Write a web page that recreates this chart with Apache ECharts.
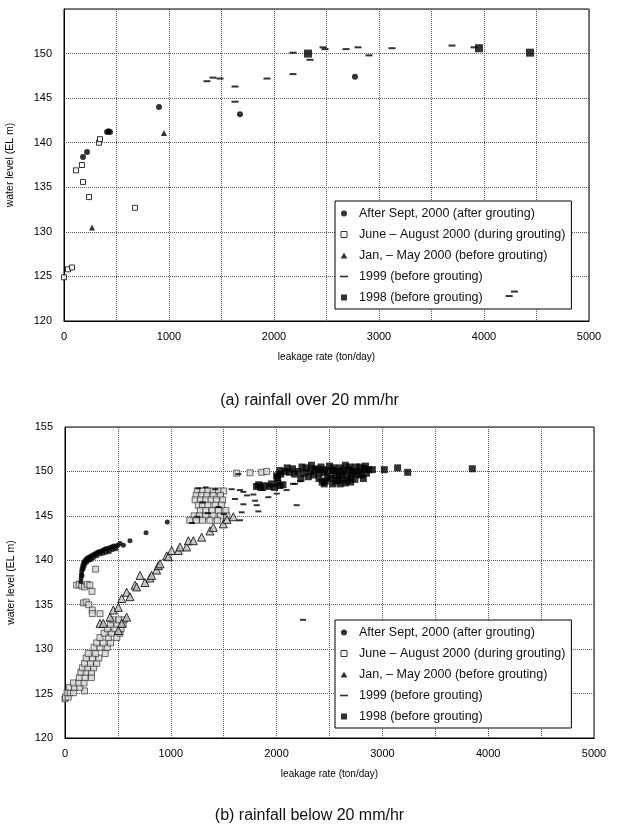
<!DOCTYPE html>
<html>
<head>
<meta charset="utf-8">
<script src="https://cdn.jsdelivr.net/npm/echarts@6/dist/echarts.min.js"></script>
<style>html,body{margin:0;padding:0;background:#fff}#c{width:619px;height:827px}</style>
</head>
<body>
<div id="c"></div>
<script>
// ---------- data ----------
const seriesNames = ['After Sept, 2000 (after grouting)','June – August 2000 (during grouting)','Jan, – May 2000 (before grouting)','1999 (before grouting)','1998 (before grouting)'];
const xTickLabels = [0,1000,2000,3000,4000,5000];
const yTickLabelsTop = [120,125,130,135,140,145,150];
const yTickLabelsBottom = [120,125,130,135,140,145,150,155];
const captionTop = '(a) rainfall over 20 mm/hr';
const captionBottom = '(b) rainfall below 20 mm/hr';

// (a) rainfall over 20 mm/hr
const topAfterSept = [[181,138.4],[219,138.95],[410,141.2],[424,141.3],[438,141.2],[905,144.0],[1676,143.2],[2771,147.4]];
const topJuneAug = [[0,124.9],[38,125.8],[76,126.0],[114,136.9],[171,137.5],[181,135.6],[238,133.9],[333,140.0],[343,140.4],[676,132.7]];
const topJanMay = [[267,130.5],[952,141.1]];
const top1999 = [[1362,146.9],[1419,147.3],[1486,147.2],[1629,146.3],[1629,144.6],[1933,147.2],[2181,150.1],[2181,147.7],[2343,149.3],[2467,150.7],[2486,150.5],[2686,150.5],[2800,150.7],[2905,149.8],[3124,150.6],[3695,150.9],[3905,150.7],[4240,122.8],[4290,123.3]];
const top1998 = [[2324,150.0],[3952,150.6],[4438,150.1]];

// (b) rainfall below 20 mm/hr
const botAfterSept = [[150,137.6],[152,138.0],[155,138.4],[158,138.8],[162,139.1],[168,139.4],[175,139.7],[185,139.9],[195,140.1],[208,140.2],[220,140.3],[235,140.4],[250,140.5],[265,140.6],[280,140.7],[295,140.8],[310,140.9],[325,141.0],[340,141.0],[355,141.1],[370,141.2],[385,141.3],[400,141.3],[420,141.4],[440,141.5],[460,141.6],[480,141.6],[500,141.7],[520,141.9],[160,138.3],[170,139.0],[180,139.3],[190,139.6],[205,139.8],[225,140.0],[245,140.1],[270,140.3],[300,140.5],[330,140.7],[360,140.8],[390,140.9],[420,141.0],[450,141.2],[480,141.3],[552,141.7],[614,142.2],[766,143.1],[967,144.3]];
const botJuneAug = [[290,139.0],[110,137.2],[135,137.3],[160,137.1],[185,137.0],[210,137.3],[235,137.2],[255,136.5],[175,135.2],[200,135.3],[225,135.0],[258,134.4],[258,134.0],[331,134.0],[184,125.3],
 [0,124.4],[5,124.6],[30,124.6],[20,125.1],[50,125.1],[80,125.1],[40,125.7],[90,125.7],[140,125.7],[80,126.2],[130,126.2],[180,126.2],[135,126.8],[190,126.8],[250,126.8],[150,127.4],[200,127.4],[250,127.4],[165,127.9],[215,127.9],[270,127.9],[185,128.4],[240,128.4],[300,128.4],[200,129.0],[260,129.0],[320,129.0],[220,129.5],[290,129.5],[380,129.5],[275,130.2],[330,130.2],[400,130.2],[300,130.7],[360,130.7],[430,130.7],[330,131.3],[410,131.3],[490,131.3],[370,131.8],[440,131.8],[520,131.8],[400,132.3],[470,132.3],[530,132.3],[430,132.8],[490,132.8],[550,132.8],[450,133.3],[510,133.3],[560,133.3],
 [1250,147.8],[1300,147.8],[1350,147.8],[1400,147.8],[1450,147.8],[1500,147.8],[1240,147.3],[1290,147.3],[1340,147.3],[1400,147.3],[1470,147.3],[1230,146.8],[1280,146.8],[1330,146.8],[1380,146.8],[1430,146.8],[1490,146.8],[1260,146.2],[1300,146.2],[1350,146.2],[1420,146.2],[1480,146.2],[1280,145.6],[1330,145.6],[1390,145.6],[1450,145.6],[1520,145.6],[1220,145.0],[1270,145.0],[1330,145.0],[1400,145.0],[1470,145.0],[1530,145.0],[1180,144.5],[1240,144.5],[1300,144.5],[1370,144.5],[1440,144.5],
 [1623,149.8],[1749,149.85],[1859,149.9],[1906,150.0]];
const botJanMay = [[331,132.9],[362,132.9],[425,133.6],[457,134.4],[504,134.7],[536,135.7],[504,132.1],[536,132.9],[583,133.6],[583,136.4],[614,135.9],[662,137.2],[677,137.0],[709,138.3],[756,137.5],[803,138.0],[819,138.3],[866,138.9],[882,139.4],[898,139.6],[961,140.5],[977,140.4],[1008,141.1],[1071,141.1],[1087,141.5],[1150,141.5],[1166,142.2],[1213,142.2],[1292,142.6],[1370,143.3],[1402,143.7],[1496,144.1],[1531,144.6],[1591,144.9]];
const bot1999 = [[1638,149.7],[1575,148.0],[1686,147.7],[1780,147.4],[1922,147.1],[2001,147.5],[2174,148.6],[2221,148.9],[1796,146.7],[1812,146.2],[1827,145.5],[1686,146.3],[1670,145.4],[1654,144.5],[2190,146.2],[1607,146.9],[2095,147.9],[1654,147.9],[1720,147.3],[1871,147.9],[2155,148.6],[1260,148.1],[1330,148.2],[1420,148.0],[1300,146.5],[1450,146.0],[1350,145.3],[1500,145.2],[1250,144.9],[1200,144.2],[2250,133.3]];
const bot1998 = [[1810,148.3],[1830,148.5],[1850,148.2],[1880,148.4],[1930,148.3],[1980,148.2],[2030,148.4],[1950,148.6],[2010,148.7],[2060,148.5],[2000,149.5],[2040,149.7],[2010,149.3],[2030,150.1],[2080,150.0],[2100,150.4],[2120,149.9],[2150,150.3],[2170,149.7],[2200,150.0],[2230,149.2],[2240,150.5],[2260,149.8],[2280,150.4],[2300,149.4],[2320,150.0],[2330,150.7],[2350,149.6],[2360,150.3],[2380,150.2],[2400,149.2],[2400,149.9],[2420,150.5],[2440,150.2],[2450,149.9],[2450,148.6],[2460,148.9],[2480,149.4],[2490,150.1],[2500,150.6],[2510,149.2],[2530,150.1],[2530,148.6],[2540,150.4],[2550,149.6],[2560,148.9],[2570,150.0],[2580,149.0],[2590,149.5],[2600,150.4],[2600,148.6],[2610,149.1],[2620,149.8],[2630,150.1],[2650,150.7],[2650,148.7],[2660,149.5],[2670,149.0],[2680,150.2],[2690,150.5],[2700,149.3],[2700,148.8],[2710,150.0],[2720,149.8],[2740,149.1],[2750,150.5],[2760,149.7],[2780,150.0],[2790,150.5],[2800,149.6],[2820,149.2],[2830,150.3],[2840,150.6],[2850,149.8],[2870,150.2],[2430,148.8],[2905,150.2],[3018,150.2],[3144,150.4],[3239,149.9],[3850,150.3]];

// ---------- chart ----------
const FONT = '"Liberation Sans", Arial, sans-serif';
const chart = echarts.init(document.getElementById('c'), null, {renderer:'canvas'});

function xAxisCfg(gi){
  return {
    type:'value', gridIndex:gi, min:0, max:5000, interval:500,
    name:'leakage rate (ton/day)', nameLocation:'middle', nameGap:31,
    nameTextStyle:{fontFamily:FONT, fontSize:10, color:'#000'},
    axisLine:{show:true, lineStyle:{color:'#000', width:1}},
    axisTick:{show:false},
    axisLabel:{fontFamily:FONT, fontSize:11, color:'#000', margin:10,
      formatter:v => xTickLabels.indexOf(v) >= 0 ? String(v) : ''},
    splitLine:{show:true, lineStyle:{color:'#555', type:'dotted', width:1}}
  };
}
function yAxisCfg(gi, labels){
  return {
    type:'value', gridIndex:gi, min:120, max:155, interval:5,
    name:'water level (EL m)', nameLocation:'middle', nameGap:48,
    nameTextStyle:{fontFamily:FONT, fontSize:10.5, color:'#000'},
    axisLine:{show:true, lineStyle:{color:'#000', width:1}},
    axisTick:{show:false},
    axisLabel:{fontFamily:FONT, fontSize:11, color:'#000', margin:12,
      formatter:v => labels.indexOf(v) >= 0 ? String(v) : ''},
    splitLine:{show:true, lineStyle:{color:'#555', type:'dotted', width:1}}
  };
}

const openSq = {color:'#fff', borderColor:'#000', borderWidth:1};
function mk(name, gi, data, symbol, size, style){
  return {type:'scatter', name, xAxisIndex:gi, yAxisIndex:gi, data, symbol, symbolSize:size,
    itemStyle:style, z:3, silent:true, emphasis:{disabled:true}};
}

function legendCfg(top){
  return {
    orient:'vertical', left:335, top:top, z:1,
    backgroundColor:'#fff', borderColor:'#000', borderWidth:1,
    padding:[6,6,5,5], itemGap:8, itemWidth:8, itemHeight:6, symbolKeepAspect:true,
    textStyle:{fontFamily:FONT, fontSize:12.5, color:'#111', padding:[0,0,0,6]},
    selectedMode:false,
    data:[
      {name:seriesNames[0], icon:'circle', itemStyle:{color:'#000'}},
      {name:seriesNames[1], icon:'path://M0,0H10V10H0Z', itemStyle:openSq},
      {name:seriesNames[2], icon:'path://M5,0L10,9H0Z', itemStyle:{color:'#000', borderWidth:0}},
      {name:seriesNames[3], icon:'path://M0,0H10V2H0Z', itemStyle:{color:'#000'}},
      {name:seriesNames[4], icon:'path://M0,0H10V10H0Z', itemStyle:{color:'#000'}}
    ]
  };
}

const option = {
  animation:false,
  backgroundColor:'#fff',
  title:[
    {text:captionTop, left:'center', top:388, textStyle:{fontFamily:FONT, fontSize:16, fontWeight:'normal', color:'#111'}},
    {text:captionBottom, left:'center', top:803, textStyle:{fontFamily:FONT, fontSize:16, fontWeight:'normal', color:'#111'}}
  ],
  grid:[
    {left:64, top:9, width:525, height:312, show:true, borderColor:'#000', borderWidth:1, backgroundColor:'transparent', containLabel:false, outerBoundsMode:'none'},
    {left:65, top:427, width:529, height:311, show:true, borderColor:'#000', borderWidth:1, backgroundColor:'transparent', containLabel:false, outerBoundsMode:'none'}
  ],
  legend:[legendCfg(201), legendCfg(620)],
  xAxis:[xAxisCfg(0), xAxisCfg(1)],
  yAxis:[yAxisCfg(0, yTickLabelsTop), yAxisCfg(1, yTickLabelsBottom)],
  series:[
    mk(seriesNames[0],0,topAfterSept,'circle',6,{color:'#000'}),
    mk(seriesNames[1],0,topJuneAug,'rect',5,openSq),
    mk(seriesNames[2],0,topJanMay,'triangle',6,{color:'#000'}),
    mk(seriesNames[3],0,top1999,'rect',[7,2],{color:'#000'}),
    mk(seriesNames[4],0,top1998,'rect',8,{color:'#000'}),
    mk(seriesNames[1],1,botJuneAug,'rect',6,{color:'#d4d4d4', borderColor:'#222', borderWidth:0.8}),
    mk(seriesNames[2],1,botJanMay,'triangle',8,{color:'#bbb', borderColor:'#000', borderWidth:1}),
    mk(seriesNames[0],1,botAfterSept,'circle',5,{color:'#000'}),
    mk(seriesNames[3],1,bot1999,'rect',[6,2],{color:'#000'}),
    mk(seriesNames[4],1,bot1998,'rect',7,{color:'#000'})
  ]
};
chart.setOption(option);
</script>
</body>
</html>
